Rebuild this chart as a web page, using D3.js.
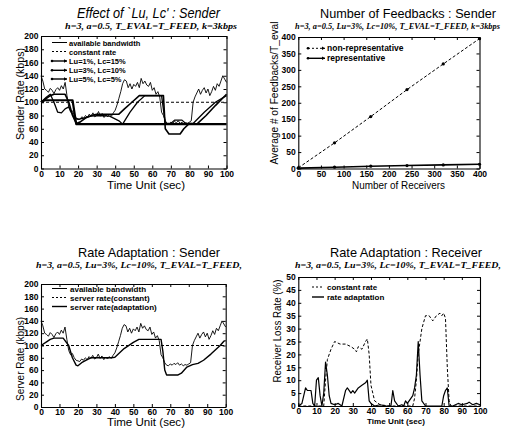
<!DOCTYPE html>
<html><head><meta charset="utf-8">
<script src="https://cdn.jsdelivr.net/npm/d3@7"></script>
<style>body{margin:0;background:#fff}svg{display:block}</style>
</head><body>
<svg id="c" width="507" height="429"></svg>
<script>
// ---------- DATA ----------
const timeTicks = [0,10,20,30,40,50,60,70,80,90,100];
const rateTicks = [0,20,40,60,80,100,120,140,160,180,200];
const recvTicks = [0,50,100,150,200,250,300,350,400];
const fbTicks = [0,50,100,150,200,250,300,350,400];
const lossTicks = [0,5,10,15,20,25,30,35,40,45,50];

const bandwidth = [[0,140],[1,132],[2,120],[3,118],[4,115],[5,121],[6,118],[7,113],[8,119],[9,122],[10,118],[11,125],[12,120],[13,130],[14,110],[15,92],[16,85],[17,87],[18,80],[19,76],[20,75],[21,74],[22,78],[23,76],[24,80],[25,77],[26,82],[27,79],[28,84],[29,78],[30,80],[31,86],[32,79],[33,83],[34,77],[35,81],[36,78],[37,82],[38,79],[39,84],[40,88],[41,96],[42,106],[43,116],[44,128],[45,134],[46,132],[47,122],[48,128],[49,120],[50,127],[51,124],[52,130],[53,122],[54,136],[55,128],[56,132],[57,126],[58,124],[59,130],[60,118],[61,122],[62,112],[63,116],[64,108],[65,85],[66,80],[67,72],[68,68],[69,67],[70,70],[71,68],[72,71],[73,69],[74,72],[75,68],[76,70],[77,67],[78,69],[79,68],[80,70],[81,72],[82,100],[83,108],[84,114],[85,120],[86,112],[87,118],[88,122],[89,114],[90,120],[91,110],[92,116],[93,124],[94,118],[95,128],[96,124],[97,132],[98,140],[99,135],[100,130]];
const constantRate = [[0,100],[100,100]];
const lu1lc15 = [[0,100],[2,103],[17,103],[19,67],[100,67]];
const lu3lc10 = [[0,100],[5,110],[7,112],[13,112],[15,100],[17,80],[19,68],[21,70],[24,76],[27,80],[30,82],[42,82],[45,90],[49,100],[53,110],[66,110],[67,60],[69,52],[75,52],[77,60],[80,68],[84,67],[89,80],[94,95],[100,112]];
const lu5lc5 = [[0,100],[3,108],[5,112],[7,100],[9,85],[11,84],[13,90],[15,93],[18,76],[20,74],[23,76],[27,79],[32,80],[37,79],[42,72],[44,67],[48,85],[52,100],[56,110],[65,110],[67,68],[70,68],[72,73],[76,73],[78,68],[82,68],[88,85],[94,100],[100,110]];
const adaptation = [[0,100],[3,106],[5,110],[7,112],[12,112],[15,100],[17,80],[19,68],[20,67],[22,72],[25,77],[27,80],[38,80],[40,81],[45,95],[50,105],[53,110],[65,110],[66,90],[67,60],[68,52],[74,52],[76,55],[79,65],[82,69],[85,71],[88,76],[92,86],[97,100],[99,107],[100,108]];

const receivers = [0,80,160,240,320,400];
const nonRepresentative = [2,78,158,240,318,395];
const representative = [1,4,7,9,11,13];

const lossConstant = [[0,0],[14,0],[15,10],[16,18],[18,22],[20,25],[23,24],[26,24],[29,23],[31,22],[32,21],[33,23],[35,22],[37,25],[38,26],[39,20],[40,8],[42,2],[45,0.5],[50,0],[63,0],[64,3],[65,10],[66,20],[68,30],[70,35],[72,35],[74,33],[76,35],[78,36],[79,35],[80,36],[81,34],[82,15],[83,2],[84,0],[100,0]];
const lossAdaptive = [[0,0],[2,1],[4,7],[5,6],[7,6],[8,1],[9,0],[10,10],[11,11],[12,4],[13,0],[14,5],[15,17],[16,12],[17,4],[18,1],[20,0.5],[22,1],[24,0],[26,6],[27,7],[29,5],[30,6],[31,5],[33,7],[35,8],[37,9],[38,10],[39,2],[40,1],[42,0],[45,0.5],[48,0],[51,0],[52,6],[53,2],[55,0],[57,0.5],[58,0],[59,2],[60,1],[61,2],[63,4],[64,7],[65,12],[66,25],[67,12],[68,2],[70,0],[79,0],[80,4],[81,6],[82,7],[83,0],[85,0],[88,1],[90,0.5],[93,1],[94,1.5],[96,0.5],[98,1],[100,0.5]];

// ---------- DRAW ----------
const svg = d3.select('#c');
const sans = "'Liberation Sans', Arial, Helvetica, sans-serif";
const narrow = "'Liberation Sans Narrow', 'Liberation Sans', Arial, sans-serif";
const serif = "'Liberation Serif', 'Times New Roman', serif";

function panel(cfg) {
  const g = svg.append('g');
  const x = d3.scaleLinear().domain(cfg.xDomain).range([cfg.l, cfg.r]);
  const y = d3.scaleLinear().domain(cfg.yDomain).range([cfg.b, cfg.t]);
  const styleAxis = s => {
    s.select('.domain').attr('stroke', '#000').attr('stroke-width', 1.1);
    s.selectAll('.tick line').attr('stroke', '#000');
    s.selectAll('text').attr('font-family', narrow).attr('font-weight', 'bold')
      .attr('font-size', 8.5).attr('fill', '#000');
  };
  g.append('g').attr('transform', `translate(0,${cfg.b})`)
    .call(d3.axisBottom(x).tickValues(cfg.xTicks).tickSize(-3).tickPadding(2).tickSizeOuter(0))
    .call(styleAxis);
  g.append('g').attr('transform', `translate(0,${cfg.t})`)
    .call(d3.axisTop(x).tickValues(cfg.xTicks).tickSize(-3).tickFormat('').tickSizeOuter(0))
    .call(styleAxis);
  g.append('g').attr('transform', `translate(${cfg.l},0)`)
    .call(d3.axisLeft(y).tickValues(cfg.yTicks).tickSize(-3).tickPadding(2.5).tickSizeOuter(0))
    .call(styleAxis);
  g.append('g').attr('transform', `translate(${cfg.r},0)`)
    .call(d3.axisRight(y).tickValues(cfg.yTicks).tickSize(-3).tickFormat('').tickSizeOuter(0))
    .call(styleAxis);

  const line = d3.line().x(d => x(d[0])).y(d => y(d[1]));
  cfg.series.forEach(s => {
    g.append('path').datum(s.data).attr('d', line).attr('fill', 'none')
      .attr('stroke', '#000').attr('stroke-width', s.w)
      .attr('stroke-dasharray', s.dash || null).attr('stroke-linejoin', 'round');
    if (s.dots) {
      g.selectAll(null).data(s.data).join('circle')
        .attr('cx', d => x(d[0])).attr('cy', d => y(d[1])).attr('r', 1.6).attr('fill', '#000');
    }
  });

  // legend
  cfg.legend.items.forEach((it, i) => {
    const yy = cfg.legend.ys[i];
    g.append('line').attr('x1', cfg.legend.x1).attr('x2', cfg.legend.x2)
      .attr('y1', yy).attr('y2', yy).attr('stroke', '#000').attr('stroke-width', it.w)
      .attr('stroke-dasharray', it.dash || null);
    if (it.marks) {
      g.append('circle').attr('cx', cfg.legend.x1).attr('cy', yy).attr('r', 1.3).attr('fill', '#000');
      g.append('path').attr('d', `M${cfg.legend.x2 - 3},${yy - 1.8}L${cfg.legend.x2},${yy}L${cfg.legend.x2 - 3},${yy + 1.8}Z`).attr('fill', '#000');
    }
    g.append('text').attr('x', cfg.legend.tx).attr('y', yy + 3)
      .attr('font-family', sans).attr('font-weight', 'bold').attr('font-size', cfg.legend.fs)
      .text(it.label);
  });

  // titles
  const t = cfg.title;
  g.append('text').attr('x', t.x).attr('y', t.y).attr('font-family', sans)
    .attr('font-size', t.fs).attr('font-style', t.italic ? 'italic' : 'normal')
    .attr('textLength', t.len).attr('lengthAdjust', 'spacingAndGlyphs').text(t.text);
  const st = cfg.subtitle;
  g.append('text').attr('x', st.x).attr('y', st.y).attr('font-family', serif)
    .attr('font-size', st.fs).attr('font-style', 'italic').attr('font-weight', 'bold')
    .attr('textLength', st.len).attr('lengthAdjust', 'spacingAndGlyphs').text(st.text);
  const xl = cfg.xLabel;
  g.append('text').attr('x', xl.x).attr('y', xl.y).attr('text-anchor', 'middle')
    .attr('font-family', sans).attr('font-size', xl.fs).attr('font-weight', xl.bold ? 'bold' : 'normal')
    .attr('textLength', xl.len).attr('lengthAdjust', 'spacingAndGlyphs').text(xl.text);
  const yl = cfg.yLabel;
  g.append('text').attr('transform', `translate(${yl.x},${yl.y}) rotate(-90)`).attr('text-anchor', 'middle')
    .attr('font-family', sans).attr('font-size', yl.fs)
    .attr('textLength', yl.len).attr('lengthAdjust', 'spacingAndGlyphs').text(yl.text);
}

// Panel 1
panel({
  l: 41, r: 226.5, t: 36, b: 168.5, xDomain: [0, 100], yDomain: [0, 200],
  xTicks: timeTicks, yTicks: rateTicks,
  series: [
    {data: bandwidth, w: 0.9},
    {data: constantRate, w: 1, dash: '3,2'},
    {data: lu1lc15, w: 2.2},
    {data: lu3lc10, w: 1.6},
    {data: lu5lc5, w: 1.3}
  ],
  legend: {x1: 52, x2: 67, tx: 69, fs: 7.5, ys: [42.5, 51.5, 61, 70.3, 79],
    items: [{label: 'available bandwidth', w: 1}, {label: 'constant rate', w: 1, dash: '2,2'},
      {label: 'Lu=1%, Lc=15%', w: 1.4, marks: true}, {label: 'Lu=3%, Lc=10%', w: 1.4, marks: true},
      {label: 'Lu=5%, Lc=5%', w: 1.4, marks: true}]},
  title: {text: "Effect of `Lu, Lc' : Sender", x: 77, y: 17.5, fs: 14, italic: true, len: 143},
  subtitle: {text: 'h=3, a=0.5, T_EVAL=T_FEED, k=3kbps', x: 65, y: 28.5, fs: 8.5, len: 172},
  xLabel: {text: 'Time Unit (sec)', x: 146, y: 188.5, fs: 11.5, len: 78},
  yLabel: {text: 'Sender Rate (kbps)', x: 24, y: 94, fs: 11.5, len: 92}
});

// Panel 2
panel({
  l: 298.3, r: 479.5, t: 37, b: 168.5, xDomain: [0, 400], yDomain: [0, 400],
  xTicks: recvTicks, yTicks: fbTicks,
  series: [
    {data: receivers.map((r, i) => [r, nonRepresentative[i]]), w: 1, dash: '3,2', dots: true},
    {data: receivers.map((r, i) => [r, representative[i]]), w: 1.6, dots: true}
  ],
  legend: {x1: 308, x2: 325, tx: 327, fs: 8.5, ys: [48.3, 58.3],
    items: [{label: 'non-representative', w: 1, dash: '2,2', marks: true},
      {label: 'representative', w: 1.4, marks: true}]},
  title: {text: 'Number of Feedbacks : Sender', x: 320, y: 17.5, fs: 13.2, italic: false, len: 176},
  subtitle: {text: 'h=3, a=0.5, Lu=3%, Lc=10%, T_EVAL=T_FEED, k=3kbps', x: 295, y: 28.5, fs: 7.5, len: 205},
  xLabel: {text: 'Number of Receivers', x: 398.5, y: 188.5, fs: 11.5, len: 93},
  yLabel: {text: 'Average # of Feedbacks/T_eval', x: 278, y: 93, fs: 10.5, len: 143}
});

// Panel 3
panel({
  l: 41, r: 225.7, t: 284, b: 407, xDomain: [0, 100], yDomain: [0, 200],
  xTicks: timeTicks, yTicks: rateTicks,
  series: [
    {data: bandwidth, w: 0.9},
    {data: constantRate, w: 1, dash: '3,2'},
    {data: adaptation, w: 1.4}
  ],
  legend: {x1: 52, x2: 67, tx: 70, fs: 8, ys: [288.5, 297.5, 306.5],
    items: [{label: 'available bandwidth', w: 1}, {label: 'server rate(constant)', w: 1, dash: '2,2'},
      {label: 'server rate(adaptation)', w: 1.4}]},
  title: {text: 'Rate Adaptation : Sender', x: 78, y: 256.5, fs: 13.5, italic: false, len: 142},
  subtitle: {text: 'h=3, a=0.5, Lu=3%, Lc=10%, T_EVAL=T_FEED,', x: 36, y: 267.5, fs: 8.5, len: 206},
  xLabel: {text: 'Time Unit (sec)', x: 146, y: 426, fs: 11, len: 78},
  yLabel: {text: 'Server Rate (kbps)', x: 24, y: 359, fs: 11, len: 84}
});

// Panel 4
panel({
  l: 298.3, r: 480, t: 277, b: 406, xDomain: [0, 100], yDomain: [0, 50],
  xTicks: timeTicks, yTicks: lossTicks,
  series: [
    {data: lossConstant, w: 1, dash: '3,2'},
    {data: lossAdaptive, w: 1.2}
  ],
  legend: {x1: 312, x2: 324, tx: 327, fs: 8, ys: [287, 297],
    items: [{label: 'constant rate', w: 1, dash: '2,2'}, {label: 'rate adaptation', w: 1.4}]},
  title: {text: 'Rate Adaptation : Receiver', x: 330, y: 256.5, fs: 13.5, italic: false, len: 152},
  subtitle: {text: 'h=3, a=0.5, Lu=3%, Lc=10%, T_EVAL=T_FEED,', x: 295, y: 267.5, fs: 8.5, len: 206},
  xLabel: {text: 'Time Unit (sec)', x: 396, y: 424, fs: 8, len: 58, bold: true},
  yLabel: {text: 'Receiver Loss Rate (%)', x: 281, y: 331, fs: 10.5, len: 103}
});
</script>
</body></html>
